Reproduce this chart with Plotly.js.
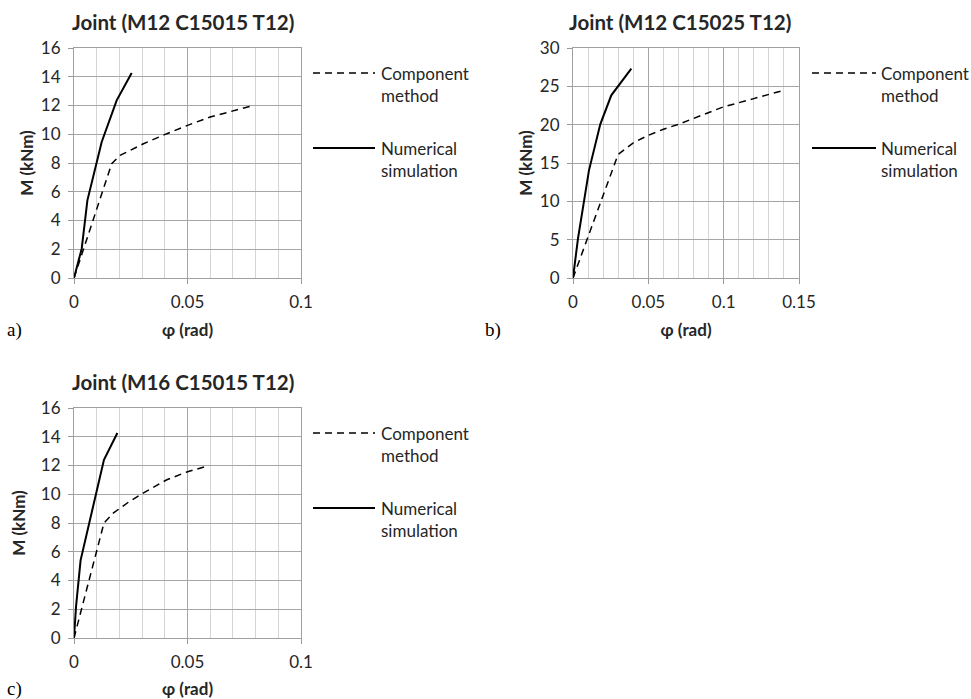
<!DOCTYPE html>
<html><head><meta charset="utf-8">
<script src="https://cdn.plot.ly/plotly-3.0.1.min.js"></script>
<style>html,body{margin:0;padding:0;background:#fff}#chart{width:971px;height:699px}</style>
</head><body><div id="chart"></div>
<script>
// ---- text ----
const panelTitles = ['Joint (M12 C15015 T12)', 'Joint (M12 C15025 T12)', 'Joint (M16 C15015 T12)'];
const panelLetters = ['a)', 'b)', 'c)'];
const seriesNames = ['Component<br>method', 'Numerical<br>simulation'];
const xTitleText = 'φ (rad)';
const yTitleText = 'M (kNm)';

// ---- data (rotation φ in rad, moment M in kNm) ----
// a) M12 C15015 T12
const aCompPhi = [0, 0.0166, 0.0203, 0.0306, 0.0409, 0.050, 0.060, 0.0703, 0.0776];
const aCompM   = [0, 7.95, 8.53, 9.34, 10.04, 10.62, 11.2, 11.66, 11.94];
const aNumPhi  = [0, 0.0034, 0.0059, 0.0122, 0.0188, 0.0254];
const aNumM    = [0, 2.04, 5.40, 9.46, 12.36, 14.26];
// b) M12 C15025 T12
const bCompPhi = [0, 0.0299, 0.0398, 0.0498, 0.0600, 0.0708, 0.0850, 0.0996, 0.1200, 0.1383];
const bCompM   = [0, 16.1, 17.6, 18.6, 19.4, 20.1, 21.2, 22.3, 23.4, 24.4];
const bNumPhi  = [0, 0.0033, 0.0106, 0.0181, 0.0254, 0.0387];
const bNumM    = [0, 5.13, 14.04, 20.04, 23.83, 27.3];
// c) M16 C15015 T12
const cCompPhi = [0, 0.0132, 0.0174, 0.0240, 0.0306, 0.0409, 0.0497, 0.0574];
const cCompM   = [0, 8.0, 8.7, 9.45, 10.09, 11.01, 11.55, 11.9];
const cNumPhi  = [0, 0.0009, 0.0029, 0.0132, 0.0191];
const cNumM    = [0, 2.2, 5.4, 12.4, 14.26];

const W = 971, H = 699;
const px = x => x / W;
const py = y => 1 - y / H;

const FONT = 'Lato, "Open Sans", sans-serif';
const TXT = '#262626';

const dashStyle = {color: '#000', width: 1.5, dash: '7px,5px'};
const solidStyle = {color: '#000', width: 2};

const traces = [
  {x: aCompPhi, y: aCompM, xaxis: 'x', yaxis: 'y', mode: 'lines', line: dashStyle, name: seriesNames[0]},
  {x: aNumPhi, y: aNumM, xaxis: 'x', yaxis: 'y', mode: 'lines', line: solidStyle, name: seriesNames[1]},
  {x: bCompPhi, y: bCompM, xaxis: 'x2', yaxis: 'y2', mode: 'lines', line: dashStyle, name: seriesNames[0]},
  {x: bNumPhi, y: bNumM, xaxis: 'x2', yaxis: 'y2', mode: 'lines', line: solidStyle, name: seriesNames[1]},
  {x: cCompPhi, y: cCompM, xaxis: 'x3', yaxis: 'y3', mode: 'lines', line: dashStyle, name: seriesNames[0]},
  {x: cNumPhi, y: cNumM, xaxis: 'x3', yaxis: 'y3', mode: 'lines', line: solidStyle, name: seriesNames[1]}
].map(t => Object.assign(t, {showlegend: false, hoverinfo: 'skip'}));

function xAxis(domain, anchor, max) {
  return {
    domain: domain, anchor: anchor, range: [0, max], tick0: 0, dtick: 0.05,
    ticks: 'outside', ticklen: 5, tickcolor: '#999', tickwidth: 1, ticklabelstandoff: 4,
    showgrid: true, gridcolor: '#a6a6a6', gridwidth: 1,
    minor: {dtick: 0.01, tick0: 0, showgrid: true, gridcolor: '#d4d4d4', gridwidth: 1, ticks: ''},
    showline: true, linecolor: '#a0a0a0', linewidth: 1, mirror: true, zeroline: false,
    tickfont: {family: FONT, size: 17, color: TXT},
    title: {text: xTitleText, font: {family: FONT, size: 17, color: TXT, weight: 'bold'}, standoff: 12},
    fixedrange: true
  };
}
function yAxis(domain, anchor, max, dt, so) {
  return {
    domain: domain, anchor: anchor, range: [0, max], tick0: 0, dtick: dt,
    ticks: 'outside', ticklen: 5, tickcolor: '#999', tickwidth: 1, ticklabelstandoff: 4,
    showgrid: true, gridcolor: '#a6a6a6', gridwidth: 1,
    showline: true, linecolor: '#a0a0a0', linewidth: 1, mirror: true, zeroline: false,
    tickfont: {family: FONT, size: 17, color: TXT},
    title: {text: yTitleText, font: {family: FONT, size: 17, color: TXT, weight: 'bold'}, standoff: so},
    fixedrange: true
  };
}

const domA_x = [px(74), px(301)], domB_x = [px(573), px(799)];
const domTop_y = [py(278), py(48)], domBot_y = [py(638), py(408)];

// legends drawn as shapes + annotations next to each panel
const legendPos = [
  {x0: 313, x1: 375, tx: 379, yDash: 73, ySolid: 148},
  {x0: 812, x1: 876, tx: 879, yDash: 73, ySolid: 148},
  {x0: 313, x1: 375, tx: 379, yDash: 433, ySolid: 508}
];
const shapes = [];
const annotations = [];
legendPos.forEach(p => {
  shapes.push({type: 'line', xref: 'paper', yref: 'paper', x0: px(p.x0), x1: px(p.x1), y0: py(p.yDash), y1: py(p.yDash), line: dashStyle});
  shapes.push({type: 'line', xref: 'paper', yref: 'paper', x0: px(p.x0), x1: px(p.x1), y0: py(p.ySolid), y1: py(p.ySolid), line: solidStyle});
  annotations.push({xref: 'paper', yref: 'paper', x: px(p.tx), y: py(p.yDash + 11.5), xanchor: 'left', yanchor: 'middle', align: 'left', showarrow: false, text: seriesNames[0], font: {family: FONT, size: 17, color: TXT}});
  annotations.push({xref: 'paper', yref: 'paper', x: px(p.tx), y: py(p.ySolid + 11.5), xanchor: 'left', yanchor: 'middle', align: 'left', showarrow: false, text: seriesNames[1], font: {family: FONT, size: 17, color: TXT}});
});
// panel titles
[[183, 22], [680, 22], [183, 382]].forEach((c, i) => {
  annotations.push({xref: 'paper', yref: 'paper', x: px(c[0]), y: py(c[1]), xanchor: 'center', yanchor: 'middle', showarrow: false, text: panelTitles[i], font: {family: FONT, size: 20.5, color: TXT, weight: 'bold'}});
});
// panel letters
[[5, 330], [483, 330], [5, 689]].forEach((c, i) => {
  annotations.push({xref: 'paper', yref: 'paper', x: px(c[0]), y: py(c[1]), xanchor: 'left', yanchor: 'middle', showarrow: false, text: panelLetters[i], font: {family: '"Liberation Serif", "Times New Roman", serif', size: 19, color: '#000'}});
});

const layout = {
  width: W, height: H, margin: {l: 0, r: 0, t: 0, b: 0},
  paper_bgcolor: '#fff', plot_bgcolor: '#fff', showlegend: false,
  xaxis: xAxis(domA_x, 'y', 0.1), yaxis: yAxis(domTop_y, 'x', 16, 2, 2),
  xaxis2: xAxis(domB_x, 'y2', 0.15), yaxis2: yAxis(domTop_y, 'x2', 30, 5, 2),
  xaxis3: xAxis(domA_x, 'y3', 0.1), yaxis3: yAxis(domBot_y, 'x3', 16, 2, 10),
  shapes: shapes, annotations: annotations
};

Plotly.newPlot('chart', traces, layout, {displayModeBar: false, staticPlot: true});
</script>
</body></html>
